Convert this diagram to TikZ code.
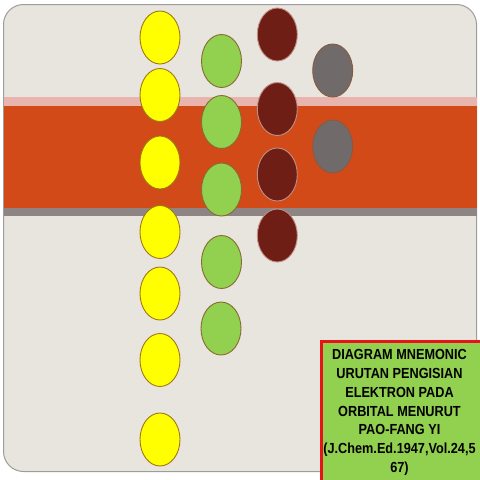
\documentclass[tikz,border=0pt]{standalone}
\usepackage{fontspec}
\setmainfont{Liberation Sans}
\usetikzlibrary{shapes.geometric}
\definecolor{bgc}{HTML}{E8E4DE}
\definecolor{bord}{HTML}{A09C98}
\definecolor{pinkband}{HTML}{E8B4AE}
\definecolor{orangeband}{HTML}{D24A18}
\definecolor{grayband}{HTML}{8E8484}
\definecolor{yel}{HTML}{FFFF00}
\definecolor{yelline}{HTML}{A07818}
\definecolor{grn}{HTML}{92D050}
\definecolor{grnline}{HTML}{8A6A30}
\definecolor{dred}{HTML}{6E1E14}
\definecolor{dredline}{HTML}{C09088}
\definecolor{gry}{HTML}{706A6A}
\definecolor{gryline}{HTML}{8A5A40}
\definecolor{boxred}{HTML}{E8121A}
\tikzset{
  orb/.style={ellipse, minimum width=40pt, minimum height=53pt, inner sep=0pt, line width=0.9pt},
  sorb/.style={orb, fill=yel, draw=yelline},
  porb/.style={orb, fill=grn, draw=grnline},
  dorb/.style={orb, fill=dred, draw=dredline},
  forb/.style={orb, fill=gry, draw=gryline},
  titlebox/.style={draw=boxred, line width=3pt, fill=grn, inner sep=0pt, minimum width=163pt, minimum height=141pt},
  titletext/.style={font=\bfseries\fontsize{14.6}{18.9}\selectfont, align=center, inner sep=0pt, xscale=0.87}
}
\begin{document}
\begin{tikzpicture}[x=1pt,y=-1pt]
\useasboundingbox (0,0) rectangle (480,480);
\fill[white] (0,0) rectangle (480,480);
\path[fill=bgc, draw=bord, line width=1pt, rounded corners=20pt] (3.5,4.5) rectangle (476.5,471.5);
\fill[pinkband] (3.5,97) rectangle (476.5,106);
\fill[orangeband] (3.5,106) rectangle (476.5,208);
\fill[grayband] (3.5,208) rectangle (476.5,216);
% s orbitals
\node[sorb] (s1) at (160,37.5) {};
\node[sorb] (s2) at (160,95) {};
\node[sorb] (s3) at (160,162.5) {};
\node[sorb] (s4) at (160,232) {};
\node[sorb] (s5) at (160,293.5) {};
\node[sorb] (s6) at (160,360) {};
\node[sorb] (s7) at (160,439.5) {};
% p orbitals
\node[porb] (p1) at (221.5,61) {};
\node[porb] (p2) at (221.5,122) {};
\node[porb] (p3) at (221.5,189.5) {};
\node[porb] (p4) at (221.5,262) {};
\node[porb] (p5) at (221,328.5) {};
% d orbitals
\node[dorb] (d1) at (277.3,34.5) {};
\node[dorb] (d2) at (277.3,109) {};
\node[dorb] (d3) at (277.3,174.5) {};
\node[dorb] (d4) at (277.3,235.5) {};
% f orbitals
\node[forb] (f1) at (332.7,70.5) {};
\node[forb] (f2) at (332.7,146.5) {};
% title box
\node[titlebox, anchor=north west] (box) at (319.5,339.5) {};
\node[titletext] (title) at (399.5,412.5) {DIAGRAM MNEMONIC\\URUTAN PENGISIAN\\ELEKTRON PADA\\ORBITAL MENURUT\\PAO-FANG YI\\(J.Chem.Ed.1947,Vol.24,5\\67)};
\end{tikzpicture}
\end{document}
